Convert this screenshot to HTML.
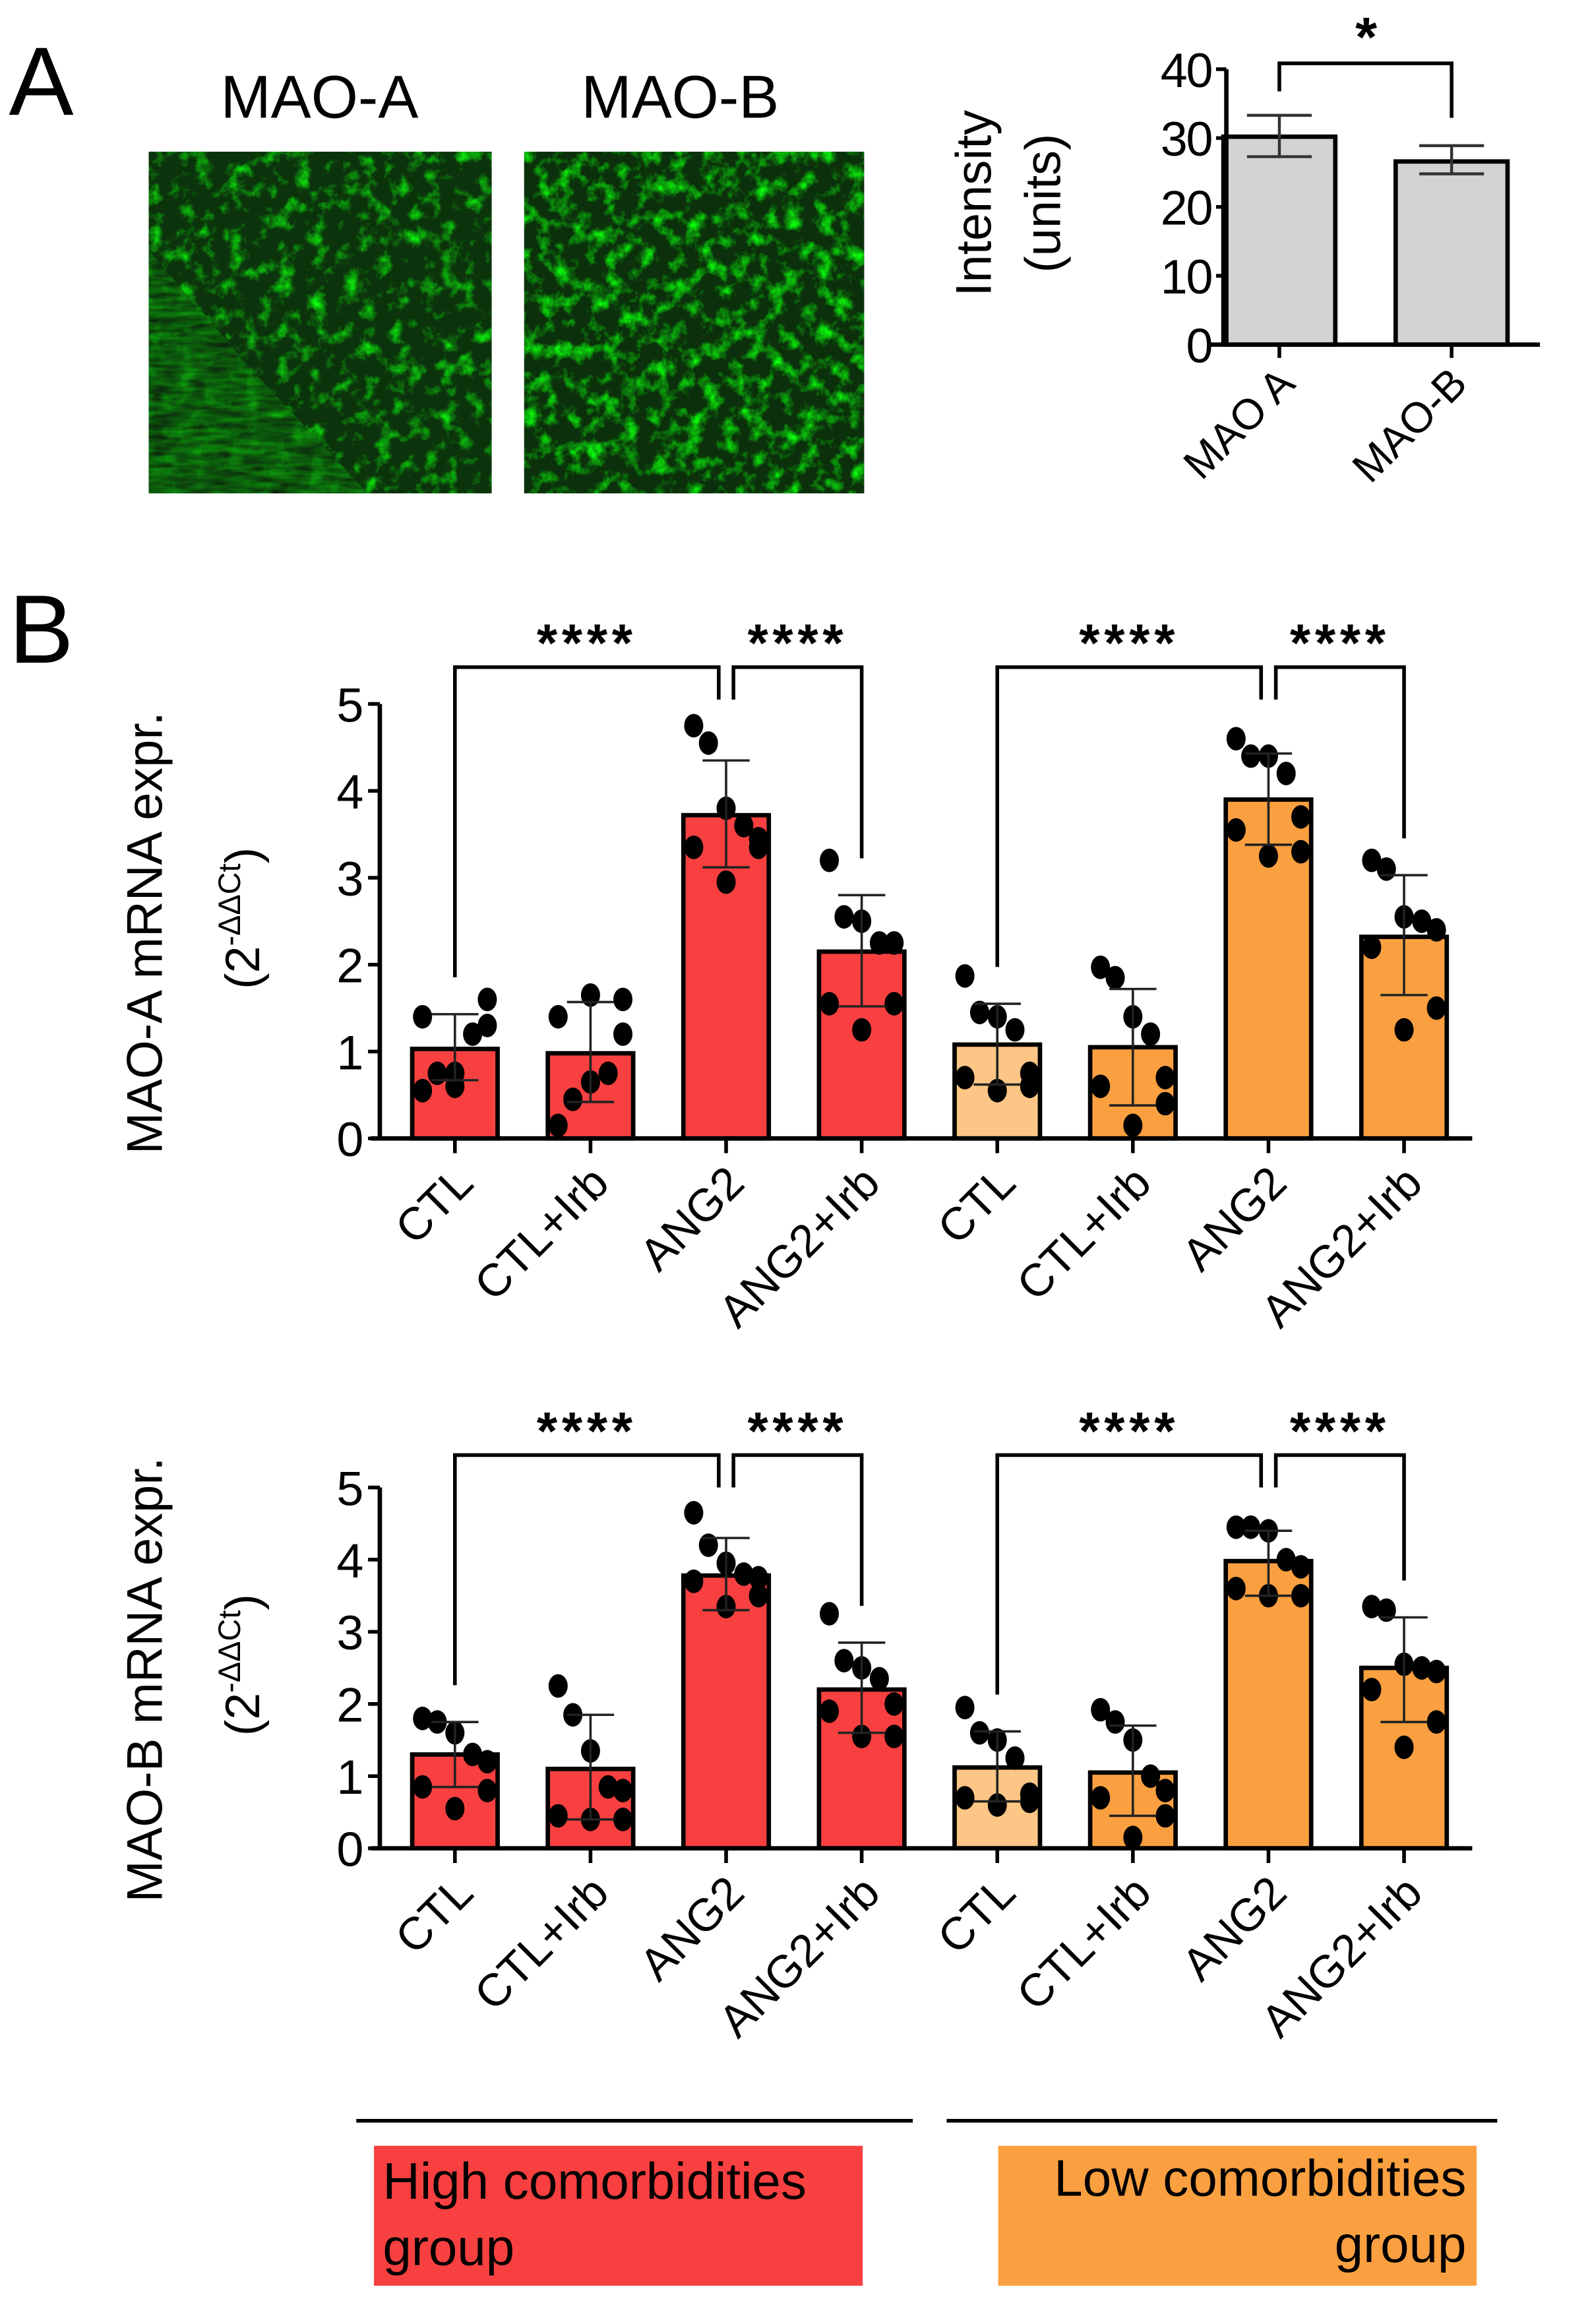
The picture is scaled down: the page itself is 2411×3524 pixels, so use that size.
<!DOCTYPE html>
<html><head><meta charset="utf-8"><style>
html,body{margin:0;padding:0;background:#fff}
svg{display:block;font-family:"Liberation Sans",Arial,sans-serif}
</style></head><body>
<svg id="fig" width="2411" height="3524" viewBox="0 0 1080 1578" preserveAspectRatio="none" xmlns="http://www.w3.org/2000/svg">
<defs>
<filter id="gB" x="0" y="0" width="100%" height="100%" color-interpolation-filters="sRGB">
<feTurbulence type="fractalNoise" baseFrequency="0.09" numOctaves="4" seed="9"/>
<feColorMatrix type="matrix" values="0 0 0 0 0  2.6 0 0 0 -1.2  0 0 0 0 0  0 0 0 0 1"/>
</filter>
<filter id="gC" x="0" y="0" width="100%" height="100%" color-interpolation-filters="sRGB">
<feTurbulence type="fractalNoise" baseFrequency="0.09" numOctaves="4" seed="4"/>
<feColorMatrix type="matrix" values="0 0 0 0 0  2.4 0 0 0 -1.2  0 0 0 0 0  0 0 0 0 1"/>
</filter>
<filter id="streak" x="0" y="0" width="100%" height="100%" color-interpolation-filters="sRGB">
<feTurbulence type="fractalNoise" baseFrequency="0.05 0.25" numOctaves="2" seed="2"/>
<feColorMatrix type="matrix" values="0 0 0 0 0.05  0.8 0 0 0 0.0  0 0 0 0 0.05  0 0 0 0 1"/>
</filter>
<clipPath id="triA"><polygon points="101,170 170,250 250,335 101,335"/></clipPath>
</defs>
<text x="6" y="78" font-size="66">A</text>
<text x="217" y="80" font-size="41" text-anchor="middle">MAO-A</text>
<text x="462" y="80" font-size="41" text-anchor="middle">MAO-B</text>
<g>
<rect x="101" y="103" width="233" height="232" fill="#0c340c"/>
<rect x="101" y="103" width="233" height="232" filter="url(#gC)" style="mix-blend-mode:screen"/>
<rect x="101" y="103" width="233" height="232" filter="url(#streak)" clip-path="url(#triA)" opacity="0.7"/>
</g>
<g>
<rect x="356" y="103" width="231" height="232" fill="#0b300b"/>
<rect x="356" y="103" width="231" height="232" filter="url(#gB)" style="mix-blend-mode:screen"/>
</g>
<text x="6" y="450" font-size="66">B</text>
<g id="chartA"></g>
<g id="chart1"></g>
<g id="chart2"></g>
<g>
<line x1="242" y1="1440" x2="620" y2="1440" stroke="#000" stroke-width="2.5"/>
<line x1="643" y1="1440" x2="1017" y2="1440" stroke="#000" stroke-width="2.5"/>
<rect x="254" y="1457" width="332" height="95" fill="#f84040"/>
<text x="260" y="1493" font-size="35">High comorbidities</text>
<text x="260" y="1538" font-size="35">group</text>
<rect x="678" y="1457" width="325" height="95" fill="#fba040"/>
<text x="996" y="1491" font-size="35" text-anchor="end">Low comorbidities</text>
<text x="996" y="1536" font-size="35" text-anchor="end">group</text>
</g>
</svg>
<script>
const NS="http://www.w3.org/2000/svg";
// Panel A data
const aCats=["MAO A","MAO-B"];
const aMeans=[30.2,26.6];
const aLo=[27.3,24.8];
const aHi=[33.3,28.9];
const aTicks=[0,10,20,30,40];
// Panel B data
const bCats=["CTL","CTL+Irb","ANG2","ANG2+Irb","CTL","CTL+Irb","ANG2","ANG2+Irb"];
const bColors=["#f84040","#f84040","#f84040","#f84040","#fdc686","#fba040","#fba040","#fba040"];
const bTicks=[0,1,2,3,4,5];
const m1Means=[1.03,0.98,3.72,2.15,1.08,1.05,3.9,2.32];
const m1Lo=[0.67,0.42,3.12,1.52,0.62,0.38,3.38,1.65];
const m1Hi=[1.43,1.57,4.35,2.8,1.55,1.72,4.43,3.03];
const m1Pts=[[0.55,0.75,0.75,1.2,1.3,1.4,1.6,0.6],[0.15,0.45,0.65,0.75,1.2,1.4,1.6,1.65],[4.75,4.55,3.8,3.6,3.45,3.35,3.35,2.95],[3.2,2.55,2.5,2.25,2.25,1.55,1.55,1.25],[1.87,1.45,1.4,1.25,0.75,0.7,0.6,0.55],[1.97,1.85,1.4,1.2,0.7,0.6,0.4,0.15],[4.6,4.4,4.4,4.2,3.7,3.55,3.3,3.25],[3.2,3.1,2.55,2.5,2.4,2.2,1.5,1.25]];
const m2Means=[1.3,1.1,3.78,2.2,1.12,1.05,3.98,2.5];
const m2Lo=[0.85,0.4,3.3,1.6,0.65,0.45,3.5,1.75];
const m2Hi=[1.75,1.85,4.3,2.85,1.62,1.7,4.4,3.2];
const m2Pts=[[1.8,1.75,1.6,1.3,1.2,0.85,0.8,0.55],[2.25,1.85,1.35,0.85,0.8,0.45,0.4,0.4],[4.65,4.2,3.95,3.8,3.75,3.7,3.5,3.35],[3.25,2.6,2.5,2.35,2.0,1.9,1.55,1.55],[1.95,1.6,1.5,1.25,0.75,0.7,0.65,0.6],[1.92,1.75,1.5,1.0,0.8,0.7,0.45,0.15],[4.45,4.45,4.4,4.0,3.9,3.6,3.5,3.5],[3.35,3.3,2.55,2.5,2.45,2.2,1.75,1.4]];

function el(p,t,a,txt){const e=document.createElementNS(NS,t);for(const k in a)e.setAttribute(k,a[k]);if(txt!=null)e.textContent=txt;p.appendChild(e);return e;}

// Panel A
(function(){
const g=document.getElementById('chartA');
const y0=234,y1=47,vmax=40;const Y=v=>y0-(y0-y1)*v/vmax;
const X=i=>869+i*117;const bw=76;
aTicks.forEach(t=>{
 const tl=el(g,'line',{x1:826,x2:833,y1:Y(t),y2:Y(t),stroke:'#000','stroke-width':2.5});
 
 const tx=el(g,'text',{x:823,y:Y(t)+12,'font-size':33,'text-anchor':'end','letter-spacing':'-1'},t);
 
});
aMeans.forEach((v,i)=>{
 const r=el(g,'rect',{x:X(i)-bw/2,y:Y(v),width:bw,height:y0-Y(v),fill:'#d3d3d3',stroke:'#000','stroke-width':3});
 
 const e=el(g,'path',{d:`M${X(i)},${Y(aLo[i])}V${Y(aHi[i])}M${X(i)-22},${Y(aLo[i])}h44M${X(i)-22},${Y(aHi[i])}h44`,stroke:'#333','stroke-width':2,fill:'none'});
 
 const tk=el(g,'line',{x1:X(i),x2:X(i),y1:y0,y2:y0+9,stroke:'#000','stroke-width':2.5});
 
 const lb=el(g,'text',{x:X(i)+12,y:y0+28,'font-size':29,'text-anchor':'end',transform:`rotate(-45 ${X(i)+12} ${y0+28})`},aCats[i]);
 
});
const ax=el(g,'path',{d:`M833,${y1}V${y0}M820,${y0}H1046`,stroke:'#000','stroke-width':3,fill:'none'});

const br=el(g,'path',{d:`M${X(0)},62V43H${X(1)}V80`,stroke:'#000','stroke-width':2.5,fill:'none'});

const st=el(g,'text',{x:928,y:38,'font-size':38,'text-anchor':'middle','font-weight':'bold'},'*');

const t1=el(g,'text',{x:0,y:0,'font-size':34,'text-anchor':'middle',transform:'translate(673 138) rotate(-90)'},'Intensity');

const t2=el(g,'text',{x:0,y:0,'font-size':34,'text-anchor':'middle',transform:'translate(720 138) rotate(-90)'},'(units)');

})();

// Panel B charts
const jitter=[-22,-12,0,12,22,-22,22,0];
function drawB(id,y0,y1,means,lo,hi,pts,title,bracketY){
 const g=document.getElementById(id);
 const Y=v=>y0-(y0-y1)*v/5;const X=i=>309+i*92.1;const bw=58;
 bTicks.forEach(t=>{
  const tl=el(g,'line',{x1:250,x2:258,y1:Y(t),y2:Y(t),stroke:'#000','stroke-width':2.5});
  
  const tx=el(g,'text',{x:247,y:Y(t)+12,'font-size':33,'text-anchor':'end'},t);
  
 });
 means.forEach((v,i)=>{
  const r=el(g,'rect',{x:X(i)-bw/2,y:Y(v),width:bw,height:y0-Y(v),fill:bColors[i],stroke:'#000','stroke-width':3});
  
  pts[i].forEach((p,k)=>{
   const c=el(g,'ellipse',{cx:X(i)+jitter[k],cy:Y(p),rx:6.5,ry:8,fill:'#000'});
   
  });
  const e=el(g,'path',{d:`M${X(i)},${Y(lo[i])}V${Y(hi[i])}M${X(i)-16},${Y(lo[i])}h32M${X(i)-16},${Y(hi[i])}h32`,stroke:'#222','stroke-width':1.6,fill:'none'});
  
  const tk=el(g,'line',{x1:X(i),x2:X(i),y1:y0,y2:y0+10,stroke:'#000','stroke-width':2.5});
  
  const lx=X(i)+14,ly=y0+32;
  const lb=el(g,'text',{x:lx,y:ly,'font-size':31,'text-anchor':'end',transform:`rotate(-45 ${lx} ${ly})`},bCats[i]);
  
 });
 const ax=el(g,'path',{d:`M258,${y1}V${y0}M252,${y0}H1000`,stroke:'#000','stroke-width':3,fill:'none'});
 
 [0,4].forEach(s=>{
  const a=X(s),b=X(s+2)-5,c=X(s+2)+5,d=X(s+3);
  const bl=el(g,'path',{d:`M${a},${Y(hi[s])-25}V${bracketY}H${b}V${bracketY+22}`,stroke:'#000','stroke-width':2.5,fill:'none'});
  
  const br=el(g,'path',{d:`M${c},${bracketY+22}V${bracketY}H${d}V${Y(hi[s+3])-25}`,stroke:'#000','stroke-width':2.5,fill:'none'});
  
  const s1=el(g,'text',{x:(a+b)/2,y:bracketY-4,'font-size':36,'text-anchor':'middle','font-weight':'bold','letter-spacing':'3'},'****');
  
  const s2=el(g,'text',{x:(c+d)/2,y:bracketY-4,'font-size':36,'text-anchor':'middle','font-weight':'bold','letter-spacing':'3'},'****');
  
 });
 const cy=(y0+y1)/2+8;
 const t1=el(g,'text',{x:0,y:0,'font-size':34,'text-anchor':'middle',transform:`translate(110 ${cy}) rotate(-90)`},title);
 
 const t2=el(g,'text',{x:0,y:0,'font-size':33,'text-anchor':'middle',transform:`translate(176 ${cy-10}) rotate(-90)`});
 
 el(t2,'tspan',{},'(2');
 el(t2,'tspan',{'font-size':21,dy:-13},'-ΔΔCt');
 el(t2,'tspan',{dy:13},')');
}
drawB('chart1',773,478,m1Means,m1Lo,m1Hi,m1Pts,'MAO-A mRNA expr.',453);
drawB('chart2',1255,1010,m2Means,m2Lo,m2Hi,m2Pts,'MAO-B mRNA expr.',988);
</script>
</body></html>
